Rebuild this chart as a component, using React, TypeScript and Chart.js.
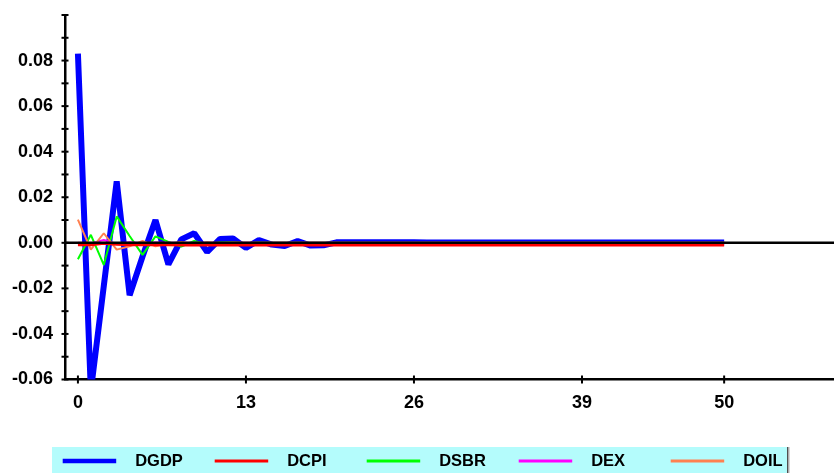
import React, { useEffect, useRef } from "react";
import { Chart, registerables } from "chart.js";

Chart.register(...registerables);

// ---- data ----
const lags = [
  0, 1, 2, 3, 4, 5, 6, 7, 8, 9, 10, 11, 12, 13, 14, 15, 16, 17, 18, 19, 20,
  21, 22, 23, 24, 25, 26, 27, 28, 29, 30, 31, 32, 33, 34, 35, 36, 37, 38, 39, 40,
  41, 42, 43, 44, 45, 46, 47, 48, 49, 50,
];

const seriesNames = ["DGDP", "DCPI", "DSBR", "DEX", "DOIL"];
const seriesColors = ["#0000ff", "#ff0000", "#00ff00", "#ff00ff", "#ff8050"];

const dgdp = [
  0.083, -0.065, -0.019, 0.027, -0.023, -0.006, 0.010, -0.0095, 0.0015, 0.0042,
  -0.0040, 0.0017, 0.0019, -0.0022, 0.0012, -0.0008, -0.0014, 0.0008, -0.0012, -0.0011,
  0.0002, 0.0002, 0.0002, 0.0002, 0.0002, 0.0002, 0.0002, 0.0001, 0.0001, 0.0001,
  0.0001, 0.0001, 0.0001, 0.0001, 0.0001, 0.0001, 0.0001, 0.0001, 0.0001, 0.0001,
  0.0001, 0.0001, 0.0001, 0.0001, 0.0001, 0.0001, 0.0001, 0.0001, 0.0001, 0.0001,
  0.0001,
];

const dcpi = [
  -0.0008, -0.0008, -0.0002, -0.0006, -0.0009, -0.0008, -0.0009, -0.0009, -0.0010, -0.0010,
  -0.0010, -0.0010, -0.0010, -0.0010, -0.0010, -0.0010, -0.0010, -0.0010, -0.0010, -0.0010,
  -0.0010, -0.0010, -0.0010, -0.0010, -0.0010, -0.0010, -0.0010, -0.0010, -0.0010, -0.0010,
  -0.0010, -0.0010, -0.0010, -0.0010, -0.0010, -0.0010, -0.0010, -0.0010, -0.0010, -0.0010,
  -0.0010, -0.0010, -0.0010, -0.0010, -0.0010, -0.0010, -0.0010, -0.0010, -0.0010, -0.0010,
  -0.0010,
];

const dsbr = [
  -0.0072, 0.0035, -0.0097, 0.0116, 0.0030, -0.0053, 0.0028, 0.0004, -0.0016, 0.0008,
  -0.0006, 0.0002, 0.0003, -0.0002, 0.0001, 0, 0, 0, 0, 0,
  0, 0, 0, 0, 0, 0, 0, 0, 0, 0,
  0, 0, 0, 0, 0, 0, 0, 0, 0, 0,
  0, 0, 0, 0, 0, 0, 0, 0, 0, 0,
  0,
];

const dex = [
  0, -0.0003, 0.0013, -0.0005, 0.0002, -0.0002, 0.0001, 0, 0, 0,
  0, 0, 0, 0, 0, 0, 0, 0, 0, 0,
  0, 0, 0, 0, 0, 0, 0, 0, 0, 0,
  0, 0, 0, 0, 0, 0, 0, 0, 0, 0,
  0, 0, 0, 0, 0, 0, 0, 0, 0, 0,
  0,
];

const doil = [
  0.0102, -0.0030, 0.0042, -0.0030, -0.0015, 0.0008, -0.0015, -0.0004, 0.0004, -0.0006,
  0.0002, -0.0002, 0.0001, 0, 0, 0, 0, 0, 0, 0,
  0, 0, 0, 0, 0, 0, 0, 0, 0, 0,
  0, 0, 0, 0, 0, 0, 0, 0, 0, 0,
  0, 0, 0, 0, 0, 0, 0, 0, 0, 0,
  0,
];

const seriesValues = [dgdp, dcpi, dsbr, dex, doil];
const seriesWidths = [6, 3, 2, 2, 2];
const legendLineWidths = [4.5, 3, 3, 3, 3];

const xTickValues = [0, 13, 26, 39, 50];
const xMin = -1;
const xMax = 58.5;
const yMin = -0.06;
const yMax = 0.1;
const yStep = 0.01;

const FONT_FAMILY = "'Liberation Sans', Arial, sans-serif";
const FONT_WEIGHT = "bold";

const overlayPlugin = {
  id: "overlay",
  afterDatasetsDraw(chart: any) {
    const { ctx, chartArea, scales } = chart;
    const y0 = scales.y.getPixelForValue(0);
    ctx.save();
    ctx.strokeStyle = "#000";
    ctx.lineWidth = 2.5;
    ctx.beginPath();
    ctx.moveTo(chartArea.left, y0);
    ctx.lineTo(chartArea.right, y0);
    ctx.stroke();

    // cross tick marks on axes
    ctx.lineWidth = 2;
    const xl = chartArea.left;
    scales.y.ticks.forEach((t: any) => {
      const py = scales.y.getPixelForValue(t.value);
      ctx.beginPath();
      ctx.moveTo(xl - 3.5, py);
      ctx.lineTo(xl + 3.5, py);
      ctx.stroke();
    });
    const yb = chartArea.bottom;
    scales.x.ticks.forEach((t: any) => {
      const px = scales.x.getPixelForValue(t.value);
      ctx.beginPath();
      ctx.moveTo(px, yb - 4);
      ctx.lineTo(px, yb + 4);
      ctx.stroke();
    });
    ctx.restore();
  },
  afterDraw(chart: any) {
    const { ctx } = chart;
    ctx.save();
    // legend box
    const left = 52;
    const top = 447;
    const right = 787;
    const bottom = chart.height;
    ctx.fillStyle = "#b4fcfc";
    ctx.fillRect(left, top, right - left, bottom - top);
    ctx.fillStyle = "#505050";
    ctx.fillRect(right, top, 1.5, bottom - top);
    ctx.fillStyle = "#b0b0b0";
    ctx.fillRect(right + 1.5, top, 1, bottom - top);

    const cy = 461;
    ctx.font = `${FONT_WEIGHT} 16.5px ${FONT_FAMILY}`;
    ctx.textBaseline = "middle";
    ctx.textAlign = "left";
    seriesNames.forEach((name, i) => {
      const sx = 62.7 + 152 * i;
      ctx.strokeStyle = seriesColors[i];
      ctx.lineWidth = legendLineWidths[i];
      ctx.beginPath();
      ctx.moveTo(sx, cy);
      ctx.lineTo(sx + 53.5, cy);
      ctx.stroke();
      ctx.fillStyle = "#000";
      ctx.fillText(name, sx + 72.5, cy + 0.5);
    });
    ctx.restore();
  },
};

export default function App() {
  const canvasRef = useRef<HTMLCanvasElement | null>(null);

  useEffect(() => {
    document.body.style.margin = "0";
    const canvas = canvasRef.current;
    if (!canvas) return;

    const datasets = seriesNames.map((name, i) => ({
      label: name,
      data: lags.map((x, k) => ({ x, y: seriesValues[i][k] })),
      borderColor: seriesColors[i],
      backgroundColor: seriesColors[i],
      borderWidth: seriesWidths[i],
      borderJoinStyle: "bevel",
      pointRadius: 0,
      tension: 0,
      fill: false,
      clip: 0,
      order: i === 0 ? 10 : i === 1 ? 1 : 5 - i + 1,
    }));

    const tickFont = { family: FONT_FAMILY, size: 18, weight: FONT_WEIGHT };

    const chart = new Chart(canvas, {
      type: "line",
      data: { datasets },
      plugins: [overlayPlugin],
      options: {
        animation: false,
        responsive: false,
        devicePixelRatio: 1,
        layout: { padding: { top: 15, left: 0, right: 0, bottom: 53.5 } },
        plugins: {
          legend: { display: false },
          tooltip: { enabled: false },
        },
        scales: {
          x: {
            type: "linear",
            min: xMin,
            max: xMax,
            afterFit: (s: any) => {
              s.height = 40;
              s.paddingLeft = 0;
              s.paddingRight = 0;
            },
            afterBuildTicks: (s: any) => {
              s.ticks = xTickValues.map((v) => ({ value: v }));
            },
            grid: { display: false, drawTicks: false },
            border: { display: true, color: "#000", width: 2.5 },
            ticks: {
              autoSkip: false,
              maxRotation: 0,
              padding: 13,
              color: "#000",
              font: tickFont,
              callback: (v: any) => String(v),
            },
          },
          y: {
            type: "linear",
            min: yMin,
            max: yMax,
            afterFit: (s: any) => {
              s.width = 65;
              s.paddingTop = 0;
              s.paddingBottom = 0;
            },
            grid: { display: false, drawTicks: false },
            border: { display: true, color: "#000", width: 2.5 },
            ticks: {
              stepSize: yStep,
              autoSkip: false,
              padding: 12,
              color: "#000",
              font: tickFont,
              callback: (v: any) => {
                const k = Math.round(Number(v) * 100);
                if (k % 2 !== 0 || k === 10) return "";
                return (k / 100).toFixed(2);
              },
            },
          },
        },
      },
    } as any);

    return () => {
      chart.destroy();
    };
  }, []);

  return (
    <div style={{ width: 834, height: 473, position: "relative" }}>
      <canvas
        ref={canvasRef}
        width={834}
        height={473}
        style={{ display: "block", width: 834, height: 473 }}
      />
    </div>
  );
}
